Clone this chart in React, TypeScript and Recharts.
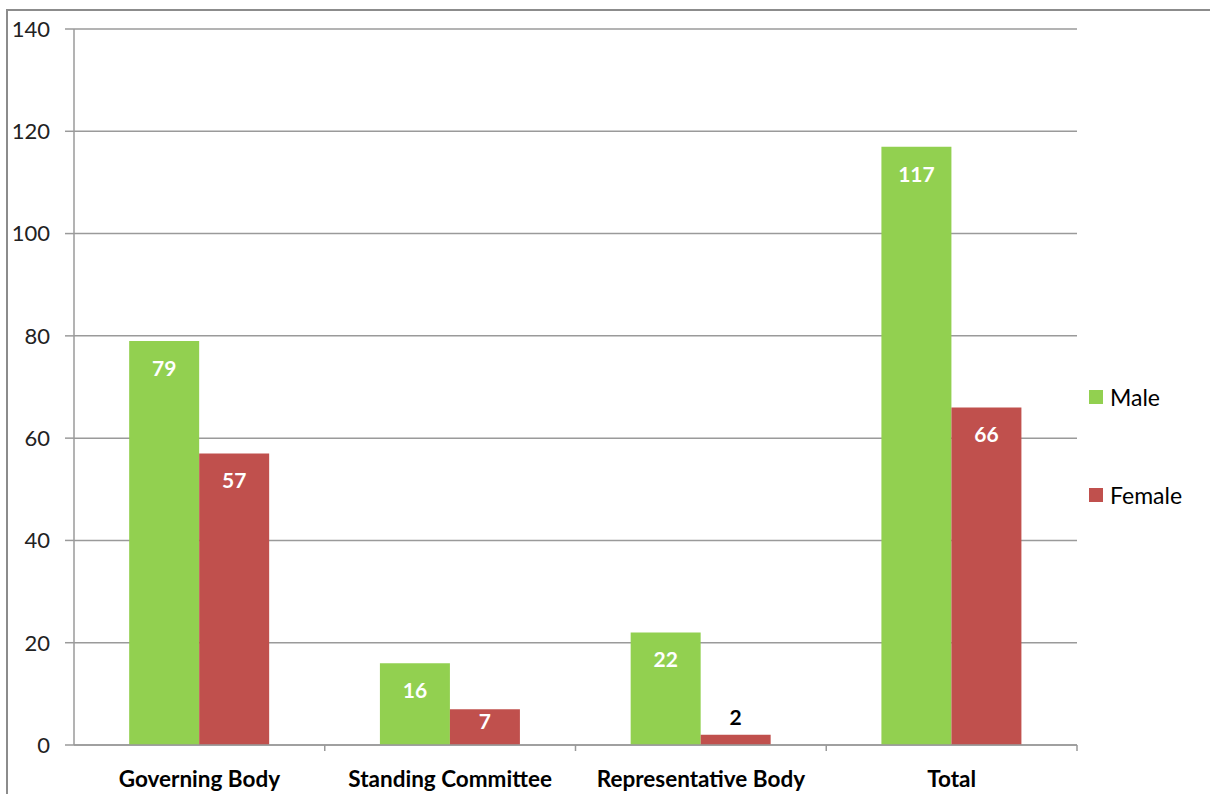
import React from 'react';
import { BarChart, Bar, XAxis, YAxis, CartesianGrid, LabelList } from 'recharts';

const categories = ['Governing Body', 'Standing Committee', 'Representative Body', 'Total'];
const maleValues = [79, 16, 22, 117];
const femaleValues = [57, 7, 2, 66];
const yTicks = [0, 20, 40, 60, 80, 100, 120, 140];
const seriesNames = ['Male', 'Female'];

const data = categories.map((name, i) => ({ name, Male: maleValues[i], Female: femaleValues[i] }));

const GREEN = '#92D050';
const RED = '#C0504D';
const FONT = 'Lato, "Open Sans", sans-serif';

const ValueLabel = (props: any) => {
  const { x, y, width, height, value } = props;
  const cx = x + width / 2;
  if (height < 25) {
    return (
      <text x={cx} y={y - 10} textAnchor="middle" fontFamily={FONT} fontWeight={700} fontSize={21} fill="#000">
        {value}
      </text>
    );
  }
  const centerOffset = Math.min(27, height / 2 - 6);
  return (
    <text x={cx} y={y + centerOffset + 8} textAnchor="middle" fontFamily={FONT} fontWeight={700} fontSize={21} fill="#fff">
      {value}
    </text>
  );
};

const XTick = (props: any) => {
  const { x, y, payload, width, visibleTicksCount } = props;
  const band = width / visibleTicksCount;
  const axisY = y - 8;
  return (
    <g>
      <line x1={x + band / 2} x2={x + band / 2} y1={axisY} y2={axisY + 6} stroke="#999" strokeWidth={1.5} />
      <text x={x} y={axisY + 42} textAnchor="middle" fontFamily={FONT} fontWeight={700} fontSize={22.5} fill="#000">
        {payload.value}
      </text>
    </g>
  );
};

const colors = [GREEN, RED];

export default function App() {
  return (
    <div style={{ position: 'absolute', left: 0, top: 0, width: 1210, height: 794, overflow: 'hidden', background: '#fff' }}>
      <div style={{ position: 'absolute', left: 6, top: 9, width: 1300, height: 900, borderTop: '2px solid #8c8c8c', borderLeft: '2px solid #8c8c8c' }} />
      <div style={{ position: 'absolute', left: 0, top: 0 }}>
        <BarChart
          width={1210}
          height={794}
          data={data}
          margin={{ top: 29, right: 133, left: 0, bottom: 0 }}
          barCategoryGap="22%"
          barGap={0}
        >
          <CartesianGrid vertical={false} stroke="#9a9a9a" strokeWidth={1.5} />
          <XAxis
            dataKey="name"
            height={49}
            axisLine={{ stroke: '#9a9a9a', strokeWidth: 1.5 }}
            tickLine={false}
            tick={<XTick />}
            interval={0}
          />
          <YAxis
            width={74}
            domain={[0, 140]}
            ticks={yTicks}
            axisLine={{ stroke: '#9a9a9a', strokeWidth: 1.5 }}
            tickLine={{ stroke: '#9a9a9a', strokeWidth: 1.5 }}
            tickSize={9}
            tickMargin={15}
            tick={{ fontFamily: FONT, fontSize: 22, fill: '#222' }}
            interval={0}
          />
          <Bar dataKey="Male" fill={GREEN} isAnimationActive={false}>
            <LabelList dataKey="Male" content={<ValueLabel />} />
          </Bar>
          <Bar dataKey="Female" fill={RED} isAnimationActive={false}>
            <LabelList dataKey="Female" content={<ValueLabel />} />
          </Bar>
        </BarChart>
      </div>
      <div style={{ position: 'absolute', left: 1089, top: 384, fontFamily: FONT, fontSize: 23, color: '#000' }}>
        {seriesNames.map((name, i) => (
          <div key={name} style={{ display: 'flex', alignItems: 'center', height: 26, marginBottom: i === 0 ? 72 : 0 }}>
            <span style={{ display: 'inline-block', width: 14, height: 14, background: colors[i], marginRight: 7 }} />
            <span>{name}</span>
          </div>
        ))}
      </div>
    </div>
  );
}
